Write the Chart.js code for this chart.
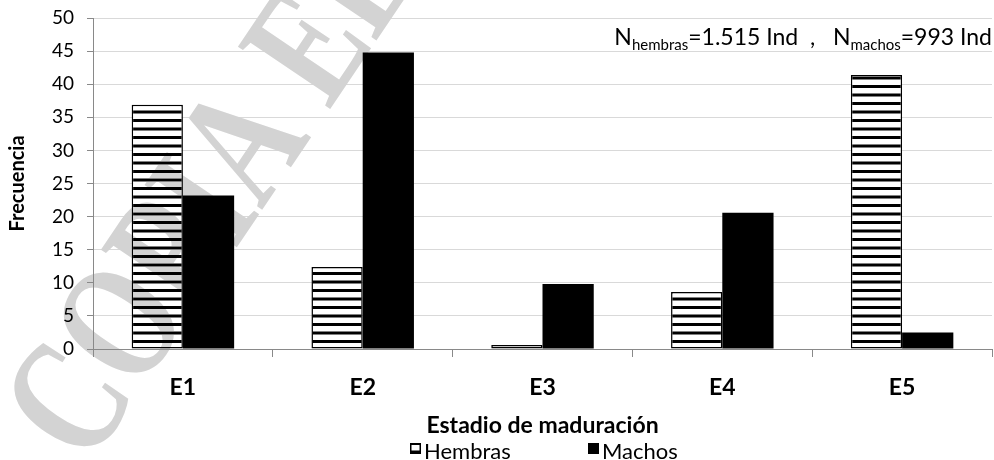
<!DOCTYPE html>
<html>
<head>
<meta charset="utf-8">
<script src="https://cdn.jsdelivr.net/npm/chart.js@4.4.1/dist/chart.umd.min.js"></script>
<style>
  html, body { margin: 0; padding: 0; background: #ffffff; }
  #wrap { width: 994px; height: 460px; position: relative; }
</style>
</head>
<body>
<div id="wrap"><canvas id="c" width="994" height="460"></canvas></div>
<script>
// Maturity stages and relative frequency (%) per sex
const categories = ['E1', 'E2', 'E3', 'E4', 'E5'];
const hembras = [36.9, 12.4, 0.6, 8.6, 41.4];
const machos = [23.2, 44.8, 9.8, 20.6, 2.5];
const yTicks = [0, 5, 10, 15, 20, 25, 30, 35, 40, 45, 50];
const seriesNames = ['Hembras', 'Machos'];
const sampleNote = [
  { t: 'N', sub: false }, { t: 'hembras', sub: true }, { t: '=1.515 Ind  ,   N', sub: false },
  { t: 'machos', sub: true }, { t: '=993 Ind', sub: false }
];

const FONT = "Lato, 'Open Sans', sans-serif";
const AXIS_GREY = '#898989';
const GRID_GREY = '#d9d9d9';

// horizontal black/white stripe fill for the female series
function stripePattern() {
  const c = document.createElement('canvas');
  c.width = 8; c.height = 17;
  const g = c.getContext('2d');
  g.fillStyle = '#ffffff'; g.fillRect(0, 0, 8, 17);
  g.fillStyle = '#000000';
  g.fillRect(0, 0, 8, 3);
  g.fillRect(0, 8.5, 8, 3);
  return g.createPattern(c, 'repeat');
}
const stripes = stripePattern();

// sample-size note, watermark and legend drawn on top of the plot
const overlay = {
  id: 'overlay',
  afterDraw(chart) {
    const ctx = chart.ctx;
    ctx.save();

    // sample sizes with subscripts
    const big = '23px ' + FONT, small = '15px ' + FONT;
    let w = 0;
    sampleNote.forEach(p => { ctx.font = p.sub ? small : big; w += ctx.measureText(p.t).width; });
    let x = chart.chartArea.right - w;
    const base = 45;
    ctx.fillStyle = '#000';
    ctx.textBaseline = 'alphabetic';
    ctx.textAlign = 'left';
    sampleNote.forEach(p => {
      ctx.font = p.sub ? small : big;
      ctx.fillText(p.t, x, p.sub ? base + 5 : base);
      x += ctx.measureText(p.t).width;
    });

    // legend
    const items = chart.data.datasets.map((d, i) => ({ ds: d, x: [410, 588][i] }));
    ctx.font = '22px ' + FONT;
    ctx.textBaseline = 'alphabetic';
    items.forEach(it => {
      ctx.fillStyle = it.ds.backgroundColor;
      ctx.fillRect(it.x, 443, 11, 11);
      ctx.strokeStyle = '#000';
      ctx.lineWidth = 1.5;
      ctx.strokeRect(it.x + 0.75, 443.75, 9.5, 9.5);
      ctx.fillStyle = '#000';
      ctx.fillText(it.ds.label, it.x + 14, 459);
    });

    // diagonal copy watermark
    ctx.globalCompositeOperation = 'darken';
    ctx.translate(88, 468);
    ctx.rotate(-56 * Math.PI / 180);
    ctx.scale(0.73, 1);
    ctx.fillStyle = '#d3d3d3';
    ctx.font = "bold 170px 'Liberation Serif', 'DejaVu Serif', serif";
    ctx.textBaseline = 'alphabetic';
    ctx.fillText('COPIA ELECTRÓNICA', 0, 0);
    ctx.restore();
  }
};

new Chart(document.getElementById('c'), {
  type: 'bar',
  data: {
    labels: categories,
    datasets: [
      { label: seriesNames[0], data: hembras, backgroundColor: stripes, borderColor: '#000', borderWidth: 1.5, borderSkipped: false },
      { label: seriesNames[1], data: machos, backgroundColor: '#000000', borderColor: '#000', borderWidth: 0 }
    ]
  },
  options: {
    responsive: false,
    animation: false,
    events: [],
    layout: { padding: { top: 18, right: 2, left: 0, bottom: 0 } },
    datasets: { bar: { barPercentage: 1, categoryPercentage: 0.57 } },
    plugins: { legend: { display: false }, tooltip: { enabled: false } },
    scales: {
      x: {
        offset: true,
        grid: { offset: true, drawOnChartArea: false, drawTicks: true, tickLength: 8, tickColor: AXIS_GREY, lineWidth: 1 },
        border: { color: AXIS_GREY, width: 1 },
        ticks: { color: '#000', font: { family: FONT, size: 23, weight: 'bold' }, padding: 17, maxRotation: 0 },
        title: { display: true, text: 'Estadio de maduración', color: '#000', font: { family: FONT, size: 23, weight: 'bold' }, padding: { top: 0, bottom: 21 } },
        afterFit(s) { s.height = 111; s.paddingLeft = 0; s.paddingRight = 0; }
      },
      y: {
        min: 0, max: 50,
        afterBuildTicks(s) { s.ticks = yTicks.map(v => ({ value: v })); },
        grid: { color: GRID_GREY, lineWidth: 1, tickLength: 6, tickColor: AXIS_GREY },
        border: { color: AXIS_GREY, width: 1 },
        ticks: { color: '#000', font: { family: FONT, size: 19 }, padding: 13 },
        title: { display: true, text: 'Frecuencia', color: '#000', font: { family: FONT, size: 20, weight: 'bold' }, padding: { top: 6, bottom: 0 } },
        afterFit(s) { s.width = 93; s.paddingTop = 0; s.paddingBottom = 0; }
      }
    }
  },
  plugins: [overlay]
});
</script>
</body>
</html>
